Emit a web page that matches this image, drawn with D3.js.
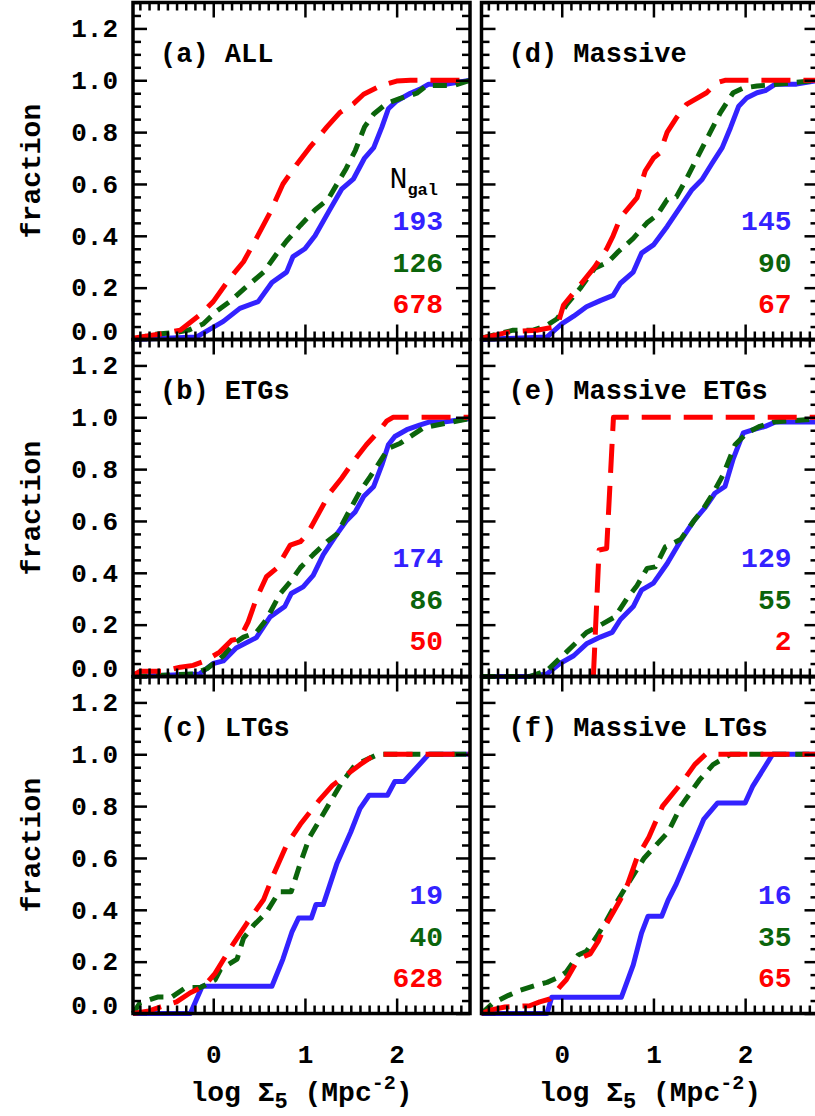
<!DOCTYPE html>
<html>
<head>
<meta charset="utf-8">
<script src="https://cdn.jsdelivr.net/npm/d3@7"></script>
<style>
body { margin: 0; background: #fff; }
svg text { font-family: "Liberation Mono", monospace; font-weight: bold; fill: #000; }
</style>
</head>
<body>
<svg id="chart" width="815" height="1116"></svg>
<script>
// cumulative fractions, [log Sigma5, fraction]
// (a) ALL
const allBlue = [[-0.875,0],[-0.18,0.01],[0.11,0.07],[0.29,0.12],[0.49,0.146],[0.64,0.22],[0.8,0.26],[0.87,0.32],[1.0,0.35],[1.11,0.4],[1.27,0.5],[1.4,0.58],[1.53,0.62],[1.65,0.7],[1.75,0.74],[1.84,0.82],[1.91,0.89],[2.0,0.92],[2.15,0.95],[2.25,0.965],[2.35,0.985],[2.55,0.985],[2.8,1.0]];
const allGreen = [[-0.875,0],[-0.65,0.02],[-0.4,0.027],[-0.27,0.036],[-0.11,0.06],[0.04,0.11],[0.18,0.146],[0.35,0.2],[0.55,0.26],[0.69,0.33],[0.8,0.38],[0.95,0.44],[1.11,0.5],[1.25,0.54],[1.35,0.6],[1.45,0.66],[1.55,0.73],[1.65,0.82],[1.75,0.87],[1.89,0.91],[2.04,0.93],[2.22,0.95],[2.33,0.98],[2.62,0.98],[2.8,1.0]];
const allRed = [[-0.875,0.005],[-0.55,0.023],[-0.36,0.036],[-0.15,0.094],[0,0.146],[0.18,0.236],[0.33,0.3],[0.47,0.39],[0.62,0.49],[0.76,0.6],[0.91,0.675],[1.05,0.74],[1.24,0.82],[1.38,0.875],[1.53,0.91],[1.64,0.946],[1.82,0.978],[2.0,0.997],[2.15,1.0],[2.8,1.0]];
// (b) ETGs
const etgBlue = [[-0.875,0],[-0.15,0.01],[0,0.05],[0.11,0.06],[0.25,0.11],[0.47,0.15],[0.62,0.23],[0.78,0.27],[0.85,0.32],[0.98,0.346],[1.09,0.39],[1.2,0.47],[1.35,0.55],[1.45,0.6],[1.55,0.636],[1.64,0.694],[1.75,0.733],[1.84,0.817],[1.91,0.894],[1.98,0.926],[2.11,0.952],[2.25,0.97],[2.36,0.982],[2.51,0.982],[2.8,0.995]];
const etgGreen = [[-0.875,0],[-0.22,0.01],[-0.07,0.03],[0.11,0.08],[0.22,0.126],[0.33,0.152],[0.47,0.17],[0.58,0.22],[0.73,0.32],[0.84,0.365],[0.95,0.42],[1.09,0.47],[1.24,0.52],[1.35,0.55],[1.45,0.617],[1.6,0.714],[1.71,0.77],[1.82,0.83],[1.91,0.88],[2.04,0.9],[2.18,0.933],[2.29,0.959],[2.44,0.97],[2.58,0.98],[2.8,0.995]];
const etgRed = [[-0.875,0.005],[-0.8,0.02],[-0.55,0.02],[-0.36,0.036],[-0.22,0.043],[-0.09,0.06],[0.07,0.094],[0.2,0.14],[0.29,0.146],[0.38,0.21],[0.47,0.3],[0.58,0.385],[0.69,0.417],[0.84,0.507],[0.95,0.52],[1.02,0.546],[1.16,0.636],[1.27,0.707],[1.4,0.765],[1.53,0.83],[1.67,0.894],[1.82,0.952],[1.89,0.985],[1.96,1.0],[2.8,1.0]];
// (c) LTGs
const ltgBlue = [[-0.875,0],[-0.25,0],[-0.12,0.105],[0.64,0.105],[0.76,0.21],[0.86,0.316],[0.93,0.368],[1.07,0.368],[1.12,0.42],[1.2,0.42],[1.35,0.58],[1.5,0.7],[1.6,0.79],[1.7,0.842],[1.9,0.842],[1.98,0.895],[2.08,0.895],[2.35,1.0],[2.8,1.0]];
const ltgGreen = [[-0.875,0],[-0.8,0.04],[-0.6,0.064],[-0.45,0.064],[-0.3,0.1],[-0.14,0.1],[0.02,0.13],[0.08,0.17],[0.26,0.21],[0.33,0.29],[0.44,0.34],[0.58,0.39],[0.72,0.47],[0.85,0.47],[0.95,0.58],[1.05,0.68],[1.25,0.8],[1.4,0.89],[1.55,0.96],[1.8,1.0],[2.8,1.0]];
const ltgRed = [[-0.875,0],[-0.7,0.01],[-0.58,0.025],[-0.4,0.045],[-0.25,0.08],[-0.1,0.105],[0.02,0.155],[0.22,0.27],[0.37,0.35],[0.55,0.44],[0.65,0.53],[0.8,0.65],[0.95,0.73],[1.15,0.82],[1.3,0.88],[1.45,0.92],[1.6,0.96],[1.77,1.0],[2.8,1.0]];
// (d) Massive
const massBlue = [[-0.875,0],[-0.16,0.01],[0,0.06],[0.13,0.09],[0.27,0.126],[0.42,0.15],[0.56,0.17],[0.64,0.217],[0.78,0.26],[0.87,0.333],[1.0,0.365],[1.15,0.436],[1.29,0.51],[1.42,0.578],[1.53,0.617],[1.64,0.68],[1.75,0.74],[1.84,0.817],[1.93,0.9],[2.02,0.933],[2.13,0.952],[2.22,0.96],[2.33,0.985],[2.56,0.985],[2.8,1.0]];
const massGreen = [[-0.875,0.005],[-0.53,0.036],[-0.31,0.036],[-0.16,0.055],[-0.05,0.08],[0.05,0.133],[0.2,0.197],[0.36,0.275],[0.51,0.3],[0.62,0.34],[0.78,0.39],[0.93,0.45],[1.04,0.48],[1.15,0.54],[1.25,0.55],[1.36,0.62],[1.49,0.71],[1.62,0.8],[1.73,0.875],[1.87,0.952],[1.98,0.97],[2.13,0.978],[2.27,0.982],[2.8,1.0]];
const massRed = [[-0.875,0.005],[-0.56,0.03],[-0.27,0.036],[-0.05,0.05],[0.02,0.133],[0.2,0.21],[0.36,0.28],[0.49,0.35],[0.56,0.4],[0.64,0.47],[0.82,0.546],[0.91,0.65],[1.0,0.7],[1.07,0.72],[1.15,0.8],[1.25,0.855],[1.36,0.907],[1.58,0.952],[1.69,0.99],[1.78,1.0],[2.8,1.0]];
// (e) Massive ETGs
const metgBlue = [[-0.875,0],[-0.36,0],[-0.16,0.01],[-0.02,0.05],[0.13,0.08],[0.27,0.126],[0.42,0.152],[0.55,0.17],[0.64,0.22],[0.78,0.27],[0.87,0.333],[1.0,0.36],[1.15,0.436],[1.29,0.52],[1.44,0.6],[1.56,0.65],[1.67,0.707],[1.78,0.733],[1.87,0.84],[1.98,0.94],[2.09,0.952],[2.22,0.965],[2.33,0.982],[2.8,0.982]];
const metgGreen = [[-0.875,0],[-0.35,0],[-0.16,0.023],[0.05,0.094],[0.27,0.17],[0.45,0.204],[0.58,0.23],[0.71,0.3],[0.82,0.35],[0.93,0.417],[1.02,0.423],[1.13,0.5],[1.22,0.515],[1.3,0.53],[1.44,0.6],[1.55,0.65],[1.65,0.707],[1.76,0.778],[1.89,0.894],[2.02,0.94],[2.16,0.965],[2.31,0.982],[2.8,0.994]];
const metgRed = [[0.345,0],[0.407,0.488],[0.49,0.494],[0.564,1.0],[2.8,1.0]];
// (f) Massive LTGs
const mltgBlue = [[-0.875,0],[-0.16,0],[-0.11,0.0625],[0.65,0.0625],[0.78,0.1875],[0.87,0.31],[0.94,0.375],[1.09,0.375],[1.16,0.4375],[1.25,0.5],[1.4,0.625],[1.55,0.75],[1.7,0.8125],[2.0,0.8125],[2.08,0.875],[2.3,1.0],[2.8,1.0]];
const mltgGreen = [[-0.875,0],[-0.75,0.04],[-0.58,0.07],[-0.45,0.09],[-0.27,0.11],[-0.16,0.12],[-0.02,0.142],[0.05,0.16],[0.18,0.226],[0.27,0.24],[0.38,0.296],[0.49,0.36],[0.6,0.43],[0.72,0.5],[0.9,0.6],[1.16,0.7],[1.3,0.8],[1.5,0.9],[1.65,0.96],[1.84,1.0],[2.8,1.0]];
const mltgRed = [[-0.875,0],[-0.78,0.013],[-0.62,0.025],[-0.35,0.03],[-0.24,0.045],[-0.13,0.056],[-0.02,0.103],[0.05,0.13],[0.18,0.21],[0.31,0.23],[0.4,0.28],[0.47,0.335],[0.56,0.39],[0.64,0.44],[0.72,0.5],[0.82,0.6],[0.95,0.68],[1.0,0.72],[1.1,0.8],[1.33,0.9],[1.45,0.96],[1.57,1.0],[2.8,1.0]];

const panelNames = ["(a) ALL", "(b) ETGs", "(c) LTGs", "(d) Massive", "(e) Massive ETGs", "(f) Massive LTGs"];
const countsBlue = [193, 174, 19, 145, 129, 16];
const countsGreen = [126, 86, 40, 90, 55, 35];
const countsRed = [678, 50, 628, 67, 2, 65];
const xMajorTicks = [0, 1, 2];
const yMajorTicks = [0, 0.2, 0.4, 0.6, 0.8, 1.0, 1.2];

const seriesByPanel = [
  [allBlue, allGreen, allRed],
  [etgBlue, etgGreen, etgRed],
  [ltgBlue, ltgGreen, ltgRed],
  [massBlue, massGreen, massRed],
  [metgBlue, metgGreen, metgRed],
  [mltgBlue, mltgGreen, mltgRed]
];

const styles = [
  {color: "#3322ff", dash: null},
  {color: "#0b640b", dash: "14,9"},
  {color: "#ff0000", dash: "29,13"}
];
const countColors = ["#3322ff", "#0b640b", "#ff0000"];

const colLeft = [133, 481.5], panelW = 337;
const rowTop = [2.5, 339.5, 676.5], panelH = 337;

const xMinorTicks = d3.range(-8, 28).filter(i => i % 10 !== 0).map(i => i / 10);
const yMinorTicks = d3.range(0, 27).filter(i => i % 4 !== 0).map(i => i / 20);

const svg = d3.select("#chart");

panelNames.forEach((name, i) => {
  const col = Math.floor(i / 3), row = i % 3;
  const left = colLeft[col], top = rowTop[row];
  const right = left + panelW, bottom = top + panelH;

  const x = d3.scaleLinear().domain([-0.875, 2.8]).range([left, right]);
  const y = d3.scaleLinear().domain([0, 1.3]).range([bottom, top]);

  const g = svg.append("g");

  const line = d3.line().x(d => x(d[0])).y(d => y(d[1]));
  seriesByPanel[i].forEach((s, k) => {
    g.append("path")
      .datum(s)
      .attr("d", line)
      .attr("fill", "none")
      .attr("stroke", styles[k].color)
      .attr("stroke-width", 5)
      .attr("stroke-linejoin", "round")
      .attr("stroke-dasharray", styles[k].dash);
  });

  // ticks on all four sides, pointing in
  const showX = row === 2, showY = col === 0;
  const addAxis = (axis, tx, ty) => {
    const a = g.append("g").attr("transform", `translate(${tx},${ty})`).call(axis);
    a.select(".domain").remove();
    a.selectAll(".tick line").attr("stroke", "#000").attr("stroke-width", 2.5);
    return a;
  };
  addAxis(d3.axisBottom(x).tickValues(xMajorTicks).tickSizeInner(-15).tickSizeOuter(0)
    .tickPadding(31).tickFormat(showX ? d3.format("d") : ""), 0, bottom)
    .selectAll("text").style("font-size", "26px");
  addAxis(d3.axisBottom(x).tickValues(xMinorTicks).tickSizeInner(-8).tickSizeOuter(0).tickFormat(""), 0, bottom);
  addAxis(d3.axisTop(x).tickValues(xMajorTicks).tickSizeInner(-15).tickSizeOuter(0).tickFormat(""), 0, top);
  addAxis(d3.axisTop(x).tickValues(xMinorTicks).tickSizeInner(-8).tickSizeOuter(0).tickFormat(""), 0, top);
  const yl = addAxis(d3.axisLeft(y).tickValues(yMajorTicks).tickSizeInner(-14).tickSizeOuter(0)
    .tickPadding(15).tickFormat(showY ? d3.format(".1f") : ""), left, 0);
  yl.selectAll("text").style("font-size", "26px");
  yl.selectAll(".tick").filter(d => d === 0).select("text").attr("transform", "translate(0,-8)");
  addAxis(d3.axisLeft(y).tickValues(yMinorTicks).tickSizeInner(-8).tickSizeOuter(0).tickFormat(""), left, 0);
  addAxis(d3.axisRight(y).tickValues(yMajorTicks).tickSizeInner(-14).tickSizeOuter(0).tickFormat(""), right, 0);
  addAxis(d3.axisRight(y).tickValues(yMinorTicks).tickSizeInner(-8).tickSizeOuter(0).tickFormat(""), right, 0);

  g.append("rect")
    .attr("x", left).attr("y", top)
    .attr("width", panelW).attr("height", panelH)
    .attr("fill", "none").attr("stroke", "#000").attr("stroke-width", 3.5);

  g.append("text")
    .attr("x", left + 27).attr("y", top + 59)
    .style("font-size", "27px")
    .text(name);

  [countsBlue[i], countsGreen[i], countsRed[i]].forEach((n, k) => {
    g.append("text")
      .attr("x", right - 27).attr("y", top + 227.5 + k * 41.5)
      .attr("text-anchor", "end")
      .style("font-size", "28px")
      .style("fill", countColors[k])
      .text(n);
  });

  if (i === 0) {
    const t = g.append("text")
      .attr("x", right - 32).attr("y", top + 185.5)
      .attr("text-anchor", "end");
    t.append("tspan").style("font-size", "30px").style("font-weight", "normal").text("N");
    t.append("tspan").attr("dy", 7).style("font-size", "17px").text("gal");
  }

  if (showY) {
    g.append("text")
      .attr("transform", `translate(40,${(top + bottom) / 2}) rotate(-90)`)
      .attr("text-anchor", "middle")
      .style("font-size", "28px")
      .text("fraction");
  }

  if (showX) {
    const t = g.append("text")
      .attr("x", (left + right) / 2).attr("y", 1101)
      .attr("text-anchor", "middle")
      .style("font-size", "28px");
    t.append("tspan").text("log Σ");
    t.append("tspan").attr("dy", 7).style("font-size", "22px").text("5");
    t.append("tspan").attr("dy", -7).text(" (Mpc");
    t.append("tspan").attr("dy", -12).style("font-size", "20px").text("-2");
    t.append("tspan").attr("dy", 12).text(")");
  }
});
</script>
</body>
</html>
